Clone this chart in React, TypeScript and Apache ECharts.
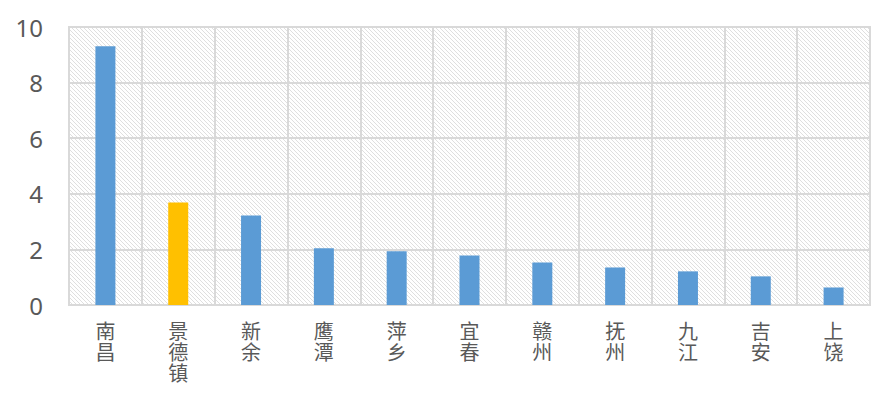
import React, { useEffect, useRef } from "react";
import * as echarts from "echarts";

const categories = ["南昌", "景德镇", "新余", "鹰潭", "萍乡", "宜春", "赣州", "抚州", "九江", "吉安", "上饶"];
const values = [9.31, 3.69, 3.22, 2.04, 1.93, 1.78, 1.53, 1.35, 1.21, 1.03, 0.63];
const highlightIndex = 1;
const yTicks = { min: 0, max: 10, interval: 2 };

function makePattern(): string {
  const c = document.createElement("canvas");
  c.width = 4;
  c.height = 4;
  const ctx = c.getContext("2d")!;
  ctx.fillStyle = "#ffffff";
  ctx.fillRect(0, 0, 4, 4);
  ctx.fillStyle = "#dfdfdf";
  for (let i = 0; i < 4; i++) ctx.fillRect(i, i, 1, 1);
  return c.toDataURL();
}

export default function App() {
  const ref = useRef<HTMLDivElement>(null);
  useEffect(() => {
    document.body.style.margin = "0";
    const chart = echarts.init(ref.current!, null, { renderer: "svg" });
    const pattern = { image: makePattern(), repeat: "repeat" };
    chart.setOption({
      animation: false,
      grid: {
        left: 69,
        right: 26,
        top: 27,
        bottom: 95,
        show: true,
        backgroundColor: pattern as any,
        borderColor: "#d9d9d9",
        borderWidth: 2,
      },
      xAxis: {
        type: "category",
        data: categories,
        axisTick: { show: false },
        axisLine: { show: true, lineStyle: { color: "#d9d9d9", width: 2 } },
        splitLine: { show: true, interval: 0, lineStyle: { color: "#d9d9d9", width: 2 } },
        axisLabel: {
          interval: 0,
          margin: 15,
          color: "#595959",
          fontSize: 20,
          lineHeight: 21,
          fontFamily: "Noto Sans CJK SC",
          formatter: (v: string) => v.split("").join("\n"),
        },
      },
      yAxis: {
        type: "value",
        min: yTicks.min,
        max: yTicks.max,
        interval: yTicks.interval,
        axisLine: { show: false },
        axisTick: { show: false },
        splitLine: { show: true, lineStyle: { color: "#d9d9d9", width: 2 } },
        axisLabel: {
          margin: 26,
          color: "#595959",
          fontSize: 24,
          fontFamily: "Noto Sans",
        },
      },
      series: [
        {
          type: "bar",
          barWidth: 20,
          data: values.map((v, i) => ({
            value: v,
            itemStyle: { color: i === highlightIndex ? "#FFC000" : "#5B9BD5" },
          })),
        },
      ],
    });
    return () => chart.dispose();
  }, []);
  return <div ref={ref} style={{ width: 896, height: 400 }} />;
}
